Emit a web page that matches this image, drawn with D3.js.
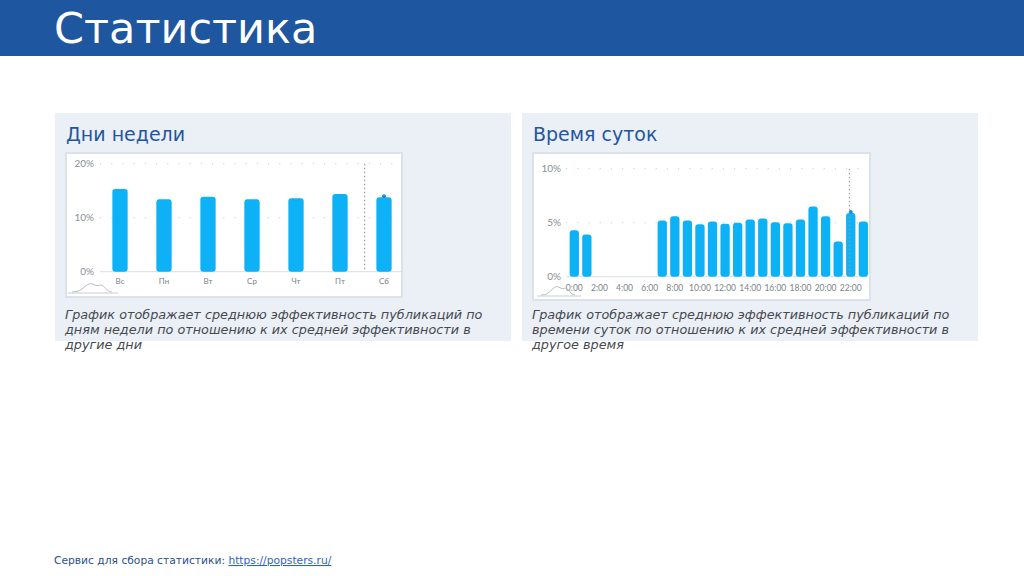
<!DOCTYPE html>
<html>
<head>
<meta charset="utf-8">
<script src="https://cdn.jsdelivr.net/npm/d3@7"></script>
<style>
  html, body { margin: 0; padding: 0; background: #ffffff; }
  svg { display: block; }
</style>
</head>
<body>
<svg id="chart" width="1024" height="576"></svg>
<script>
// ---- Data ----
const pageTitle = "Статистика";
const leftTitle = "Дни недели";
const rightTitle = "Время суток";
const days = ["Вс", "Пн", "Вт", "Ср", "Чт", "Пт", "Сб"];
const dayValues = [15.3, 13.4, 13.9, 13.4, 13.6, 14.4, 13.8];
const dayTicks = [0, 10, 20];
const hours = ["0:00","1:00","2:00","3:00","4:00","5:00","6:00","7:00","8:00","9:00","10:00","11:00",
               "12:00","13:00","14:00","15:00","16:00","17:00","18:00","19:00","20:00","21:00","22:00","23:00"];
const hourValues = [4.3, 3.9, 0, 0, 0, 0, 0, 5.2, 5.6, 5.2, 4.85, 5.1, 4.9, 5.0, 5.3, 5.4, 5.05, 4.95, 5.3, 6.5, 5.6, 3.25, 5.9, 5.1];
const hourTickLabels = ["0:00","2:00","4:00","6:00","8:00","10:00","12:00","14:00","16:00","18:00","20:00","22:00"];
const hourTicks = [0, 5, 10];
const leftCaption = ["График отображает среднюю эффективность публикаций по",
                     "дням недели по отношению к их средней эффективности в",
                     "другие дни"];
const rightCaption = ["График отображает среднюю эффективность публикаций по",
                      "времени суток по отношению к их средней эффективности в",
                      "другое время"];
const footerText = "Сервис для сбора статистики: ";
const footerLink = "https://popsters.ru/";

// ---- Styles ----
const BLUE = "#1f56a0";
const BAR = "#0db1f6";
const PANEL = "#ebeff6";
const GRID = "#d9dde3";
const LABEL = "#8a8f96";

const svg = d3.select("#chart");

// Header
svg.append("rect").attr("x", 0).attr("y", 0).attr("width", 1024).attr("height", 56).attr("fill", BLUE);
svg.append("text").attr("x", 54).attr("y", 43)
  .attr("font-family", "DejaVu Sans").attr("font-size", 43).attr("fill", "#ffffff")
  .text(pageTitle);

// Panels
function panel(x, title, caption) {
  svg.append("rect").attr("x", x).attr("y", 113).attr("width", 456).attr("height", 228).attr("fill", PANEL);
  svg.append("text").attr("x", x + 11).attr("y", 141)
    .attr("font-family", "DejaVu Sans").attr("font-size", 19).attr("fill", BLUE)
    .text(title);
  svg.append("g").selectAll("text").data(caption).join("text")
    .attr("x", x + 10).attr("y", (d, i) => 318.5 + i * 15.2)
    .attr("font-family", "DejaVu Sans").attr("font-style", "italic")
    .attr("font-size", 12.8).attr("fill", "#464a50")
    .text(d => d);
}
panel(55, leftTitle, leftCaption);
panel(522, rightTitle, rightCaption);

// density icon helper (decorative)
const iconShape = [[0,1],[0.2,0.95],[0.35,0.3],[0.5,0.05],[0.62,0.5],[0.75,0.15],[0.88,0.9],[1,1]];
function drawIcon(g, x0, y0, w, h) {
  const ix = d3.scaleLinear().domain([0,1]).range([x0, x0 + w]);
  const iy = d3.scaleLinear().domain([0,1]).range([y0, y0 + h]);
  g.append("path")
    .attr("d", d3.line().x(d => ix(d[0])).y(d => iy(d[1])).curve(d3.curveBasis)(iconShape))
    .attr("fill", "none").attr("stroke", "#b8bcc2").attr("stroke-width", 1);
  g.append("line").attr("x1", x0 - 4).attr("x2", x0 + w + 6).attr("y1", y0 + h + 1).attr("y2", y0 + h + 1)
    .attr("stroke", "#c8ccd2").attr("stroke-width", 1);
}

function barChart(cfg) {
  const g = svg.append("g");
  // card
  g.append("rect").attr("x", cfg.card[0]).attr("y", cfg.card[1]).attr("width", cfg.card[2]).attr("height", cfg.card[3])
    .attr("fill", "#ffffff").attr("stroke", "#dde2ea").attr("stroke-width", 2);

  const x = d3.scaleBand().domain(cfg.cats).range(cfg.xRange).paddingInner(cfg.pad).paddingOuter(cfg.pad / 2);
  const y = d3.scaleLinear().domain([0, cfg.ticks[cfg.ticks.length - 1]]).range(cfg.yRange);

  // gridlines
  g.append("g").selectAll("line").data(cfg.ticks.filter(t => t > 0)).join("line")
    .attr("x1", cfg.gridX[0]).attr("x2", cfg.gridX[1])
    .attr("y1", d => y(d)).attr("y2", d => y(d))
    .attr("stroke", "#c9cdd3").attr("stroke-width", 1).attr("stroke-dasharray", "1.2,10");
  g.append("line").attr("x1", cfg.gridX[0]).attr("x2", cfg.gridX[1])
    .attr("y1", y(0)).attr("y2", y(0)).attr("stroke", GRID).attr("stroke-width", 1);

  // y axis labels
  const ya = g.append("g").attr("transform", `translate(${cfg.yLabelX},0)`)
    .call(d3.axisLeft(y).tickValues(cfg.ticks).tickSize(0).tickPadding(0).tickFormat(d => d + "%"));
  ya.select(".domain").remove();
  ya.selectAll("text").attr("font-family", "Lato").attr("font-size", 10).attr("fill", LABEL);

  // x axis labels
  const xa = g.append("g").attr("transform", `translate(0,${y(0) + cfg.xLabelDy})`)
    .call(d3.axisBottom(x).tickValues(cfg.xTickValues).tickSize(0).tickPadding(0));
  xa.select(".domain").remove();
  xa.selectAll("text").attr("font-family", "Lato").attr("font-size", cfg.xFont).attr("fill", "#7d828a");

  // bars
  const data = cfg.cats.map((c, i) => ({ c, v: cfg.values[i] })).filter(d => d.v > 0);
  g.append("g").selectAll("rect").data(data).join("rect")
    .attr("x", d => x(d.c)).attr("width", x.bandwidth())
    .attr("y", d => y(d.v)).attr("height", d => y(0) - y(d.v))
    .attr("rx", cfg.rx).attr("fill", BAR);

  // hover marker (dotted vertical + dot)
  const mi = cfg.markerIndex;
  const mx = x(cfg.cats[mi]) + x.bandwidth() / 2 + cfg.markerLineOffset * x.step();
  g.append("line").attr("x1", mx).attr("x2", mx).attr("y1", y(cfg.ticks[cfg.ticks.length - 1])).attr("y2", y(0))
    .attr("stroke", "#9aa0a8").attr("stroke-width", 1.2).attr("stroke-dasharray", "1.5,2.5");
  g.append("circle").attr("cx", x(cfg.cats[mi]) + x.bandwidth() / 2).attr("cy", y(cfg.values[mi]) - 1)
    .attr("r", 2).attr("fill", "#1a8fd0");

  drawIcon(g, cfg.icon[0], cfg.icon[1], cfg.icon[2], cfg.icon[3]);
  return g;
}

// Left chart
barChart({
  card: [66, 153, 336, 144],
  cats: days, values: dayValues, ticks: dayTicks,
  xRange: [98, 406], pad: 0.652,
  yRange: [271.7, 163.7],
  gridX: [100, 402],
  yLabelX: 94,
  xLabelDy: 7, xFont: 8,
  xTickValues: days,
  rx: 3,
  markerIndex: 6, markerLineOffset: -0.44,
  icon: [72, 282, 40, 10]
});

// Right chart
barChart({
  card: [533, 153, 337, 147],
  cats: hours, values: hourValues, ticks: hourTicks,
  xRange: [568, 869.6], pad: 0.26,
  yRange: [276.7, 168.7],
  gridX: [566, 868],
  yLabelX: 561,
  xLabelDy: 8, xFont: 8.5,
  xTickValues: hourTickLabels,
  rx: 3,
  markerIndex: 22, markerLineOffset: -0.1,
  icon: [541, 285, 34, 10]
});

// Footer
const ft = svg.append("text").attr("x", 54).attr("y", 564)
  .attr("font-family", "DejaVu Sans").attr("font-size", 10.7).attr("fill", "#2b4f8c");
ft.append("tspan").text(footerText);
ft.append("tspan").attr("fill", "#2f62c8").attr("text-decoration", "underline").text(footerLink);
</script>
</body>
</html>
